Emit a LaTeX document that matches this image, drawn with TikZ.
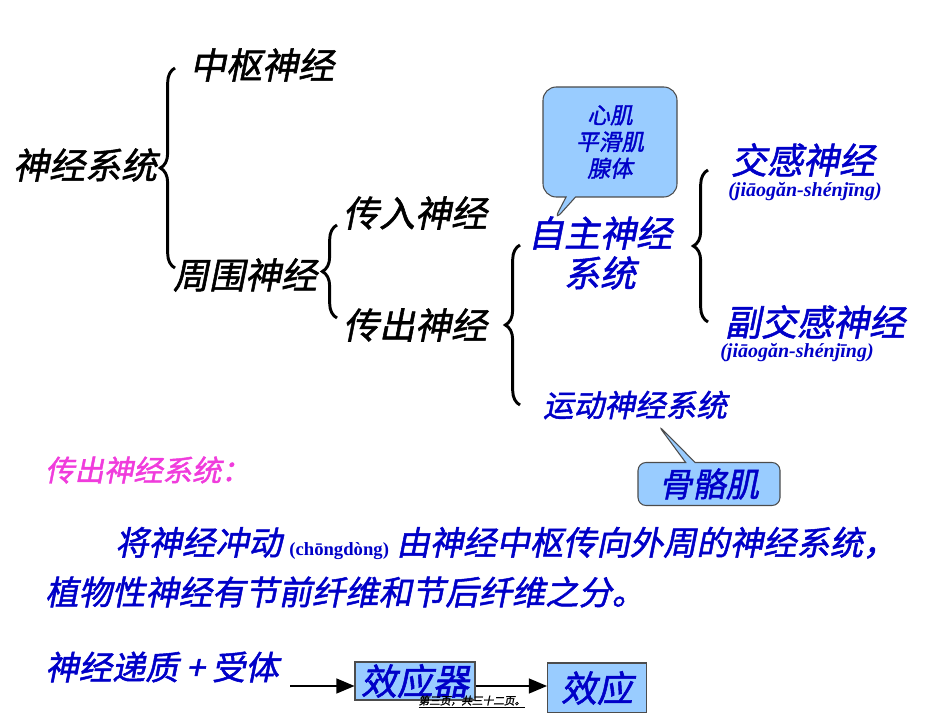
\documentclass[tikz,border=0pt]{standalone}
\usepackage{fontspec}
\usepackage{tikz}
\usetikzlibrary{decorations.pathreplacing, arrows, shapes.callouts}
\newfontfamily\cjkit[FakeSlant=0.2,FakeBold=1.5]{Noto Sans CJK SC}
\newfontfamily\pyfont{Liberation Serif}
\definecolor{txtblue}{RGB}{0,0,200}
\definecolor{boxblue}{RGB}{153,204,255}
\definecolor{pinkish}{RGB}{240,60,220}
\tikzstyle{big} = [font=\cjkit\fontsize{27}{30}\selectfont, inner sep=0pt]
\tikzstyle{bigblue} = [big, text=txtblue]
\tikzstyle{mid} = [font=\cjkit\fontsize{25}{28}\selectfont, inner sep=0pt, text=txtblue]
\tikzstyle{pinyin} = [font=\pyfont\bfseries\itshape\fontsize{15}{17}\selectfont, inner sep=0pt, text=txtblue]
\tikzstyle{brc} = [decorate, decoration={brace, amplitude=11pt}, line width=2.2pt]
\tikzstyle{bubble} = [rectangle callout, rounded corners=10pt, draw=black!70, fill=boxblue, thick]
\tikzstyle{effbox} = [rectangle, draw=black!70, fill=boxblue, thick, inner sep=0pt]
\tikzstyle{arrow} = [line width=2.2pt, ->, >=triangle 45]

\begin{document}
\begin{tikzpicture}[x=0.75pt, y=-0.75pt]
        \useasboundingbox (0,0) rectangle (950,713);
        % tree
        \node (ns) [big] at (85,165) {神经系统};
        \node (zs) [big] at (262,65) {中枢神经};
        \node (zw) [big] at (245,275) {周围神经};
        \node (cr) [big] at (415,213) {传入神经};
        \node (cc) [big] at (415,325) {传出神经};
        \node (zz) [bigblue, align=center] at (600,253) {自主神经\\系统};
        \node (yd) [mid, font=\cjkit\fontsize{23}{26}\selectfont] at (635,405) {运动神经系统};
        \node (jg) [bigblue] at (803,160) {交感神经};
        \node (jgp) [pinyin] at (805,192) {(jiāogăn-shénjīng)};
        \node (fj) [bigblue] at (815,322) {副交感神经};
        \node (fjp) [pinyin] at (797,353) {(jiāogăn-shénjīng)};
        \draw [brc] (175,268) -- (175,68);
        \draw [brc] (337,318) -- (337,225);
        \draw [brc] (520,405) -- (520,245);
        \draw [brc] (708,322) -- (708,170);
        % callouts
        \node (xj) [bubble, minimum width=134*0.75pt, minimum height=110*0.75pt, callout absolute pointer={(553,222)}, align=center, font=\cjkit\fontsize{17}{20}\selectfont, text=txtblue] at (610,142) {心肌\\平滑肌\\腺体};
        \node (gg) [bubble, rounded corners=6pt, minimum width=142*0.75pt, minimum height=43*0.75pt, callout absolute pointer={(658,425)}, font=\cjkit\fontsize{25}{28}\selectfont, text=txtblue, inner sep=0pt] at (709,484) {骨骼肌};
        % text
        \node (tt) [font=\cjkit\fontsize{22}{26}\selectfont, text=pinkish, inner sep=0pt, anchor=west] at (45,470) {传出神经系统：};
        \node (l1) [mid, anchor=west] at (115,543) {将神经冲动 {\pyfont\bfseries\fontsize{14}{16}\selectfont(chōngdòng)} 由神经中枢传向外周的神经系统，};
        \node (l2) [mid, anchor=west] at (45,592) {植物性神经有节前纤维和节后纤维之分。};
        \node (sz) [mid, anchor=west] at (45,667) {神经递质 + 受体};
        \node (xyq) [effbox, minimum width=120*0.75pt, minimum height=38*0.75pt, bigblue] at (415,681) {效应器};
        \node (xy) [effbox, minimum width=99*0.75pt, minimum height=50*0.75pt, bigblue] at (597,688) {效应};
        \coordinate (st) at (290,686);
        \draw [arrow] (st) -- (xyq.west |- st);
        \draw [arrow] (xyq.east |- st) -- (xy.west |- st);
        \node (ft) [font=\cjkit\fontsize{8}{9}\selectfont, inner sep=1pt] at (472,702) {\underline{第三页，共三十二页。}};
\end{tikzpicture}
\end{document}
